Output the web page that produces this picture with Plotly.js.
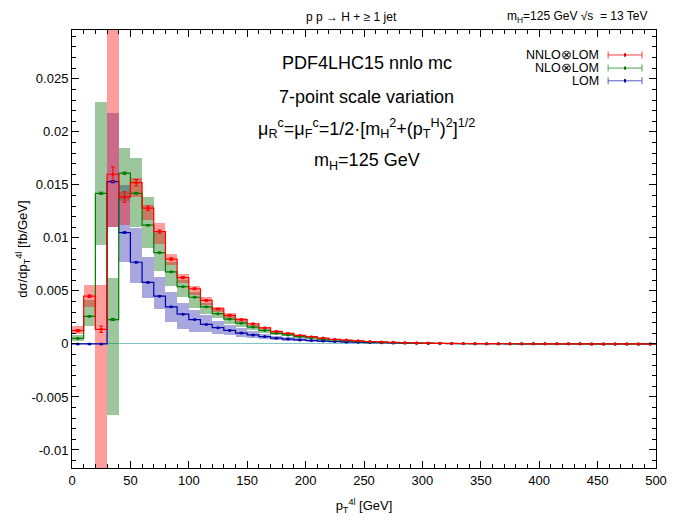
<!DOCTYPE html>
<html>
<head>
<meta charset="utf-8">
<script src="https://cdn.plot.ly/plotly-3.0.1.min.js"></script>
<style>
  html, body { margin: 0; padding: 0; background: #fff; }
  #chart { width: 675px; height: 525px; }
</style>
</head>
<body>
<div id="chart"></div>
<script>
// Bin edges in pT (GeV): 50 bins of 10 GeV from 0 to 500
const binEdges = [0,10,20,30,40,50,60,70,80,90,100,110,120,130,140,150,160,170,180,190,200,
  210,220,230,240,250,260,270,280,290,300,310,320,330,340,350,360,370,380,390,400,
  410,420,430,440,450,460,470,480,490,500];

// NNLO⊗LOM: central values, scale-variation envelope, statistical errors
const nnloCentral = [0.00125,0.0045,0.00138,0.0160,0.01385,0.0152,0.0128,0.0106,0.0080,0.00625,
  0.0052,0.0041,0.0033,0.0027,0.0023,0.0019,0.00152,0.00118,0.00100,0.00080,
  0.00068,0.00055,0.00043,0.00036,0.00029,0.00023,0.00019,0.00015,0.00012,0.000095,
  0.000075,0.00006,0.000048,0.00004,0.000032,0.000026,0.000021,0.000017,0.000014,0.000011,
  0.000009,0.0000075,0.000006,0.000005,0.000004,0.0000033,0.0000027,0.0000022,0.0000018,0.0000015];
const nnloLow = [0.0009,0.0035,-0.013,0.011,0.0112,0.0139,0.01165,0.00945,0.0074,0.0057,
  0.0046,0.0037,0.0030,0.0024,0.0021,0.0017,0.00137,0.00106,0.0009,0.00072,
  0.00061,0.0005,0.00039,0.00032,0.00026,0.00021,0.00017,0.000135,0.00011,0.000085,
  0.000068,0.000054,0.000043,0.000036,0.000029,0.000023,0.000019,0.000015,0.0000125,0.00001,
  0.000008,0.0000067,0.0000054,0.0000045,0.0000036,0.000003,0.0000024,0.000002,0.0000016,0.0000013];
const nnloHigh = [0.00165,0.0056,0.0056,0.035,0.0143,0.0156,0.0131,0.0114,0.0085,0.0066,
  0.0055,0.0044,0.0035,0.0029,0.0024,0.002,0.0016,0.00125,0.00106,0.00085,
  0.00072,0.00058,0.00046,0.00038,0.00031,0.00024,0.0002,0.00016,0.000127,0.0001,
  0.00008,0.000064,0.00005,0.000042,0.000034,0.000027,0.000022,0.000018,0.0000148,0.0000117,
  0.0000095,0.000008,0.0000064,0.0000053,0.0000042,0.0000035,0.0000028,0.0000023,0.0000019,0.0000016];
const nnloStat = [0.0001,0.00012,0.0003,0.0007,0.0005,0.0003,0.0002,0.00015,0.00012,0.0001,
  0.00008,0.00007,0.00006,0.00005,0.00004,0.00004,0.00003,0.00003,0.00002,0.00002,
  0.00002,0.00001,0.00001,0.00001,0.00001,0.00001,0.00001,0.00001,0.00001,0.00001,
  0.000005,0.000005,0.000005,0.000005,0.000005,0.000005,0.000005,0.000005,0.000005,0.000005,
  0.000003,0.000003,0.000003,0.000003,0.000003,0.000003,0.000003,0.000003,0.000003,0.000003];

// NLO⊗LOM
const nloCentral = [0.00052,0.0026,0.0142,0.0023,0.0161,0.0142,0.0112,0.0086,0.0068,0.0054,
  0.0044,0.0035,0.00285,0.00234,0.00196,0.00159,0.00127,0.001,0.00085,0.00068,
  0.00058,0.00046,0.00037,0.0003,0.00024,0.00019,0.00016,0.00013,0.0001,0.00008,
  0.000064,0.000051,0.000041,0.000034,0.000027,0.000022,0.000018,0.0000145,0.000012,0.0000095,
  0.0000077,0.0000064,0.0000052,0.0000043,0.0000035,0.0000029,0.0000024,0.0000019,0.0000016,0.0000013];
const nloLow = [0.0003,0.0017,0.0093,-0.0067,0.0135,0.011,0.009,0.0069,0.0055,0.0044,
  0.0034,0.0028,0.0024,0.0019,0.0016,0.0013,0.00105,0.00083,0.0007,0.00056,
  0.00048,0.00038,0.0003,0.00025,0.0002,0.00016,0.00013,0.00011,0.000083,0.000066,
  0.000053,0.000042,0.000034,0.000028,0.000022,0.000018,0.000015,0.000012,0.00001,0.0000078,
  0.0000063,0.0000053,0.0000043,0.0000035,0.0000029,0.0000024,0.000002,0.0000016,0.0000013,0.0000011];
const nloHigh = [0.0008,0.0041,0.0228,0.0062,0.0185,0.0175,0.01385,0.01055,0.0077,0.006,
  0.0049,0.0039,0.0032,0.0026,0.0022,0.0018,0.00143,0.00112,0.00095,0.00076,
  0.00065,0.00052,0.00042,0.00034,0.00027,0.00021,0.00018,0.000146,0.000112,0.00009,
  0.000072,0.000057,0.000046,0.000038,0.00003,0.000025,0.00002,0.000016,0.0000135,0.0000107,
  0.0000086,0.0000072,0.0000058,0.0000048,0.0000039,0.0000032,0.0000027,0.0000021,0.0000018,0.0000015];
const nloStat = [0.00003,0.00005,0.0001,0.0001,0.0001,0.00008,0.00006,0.00005,0.00004,0.00003,
  0.00003,0.00002,0.00002,0.00002,0.00002,0.00001,0.00001,0.00001,0.00001,0.00001,
  0.000005,0.000005,0.000005,0.000005,0.000005,0.000005,0.000005,0.000005,0.000005,0.000005,
  0.000003,0.000003,0.000003,0.000003,0.000003,0.000003,0.000003,0.000003,0.000003,0.000003,
  0.000002,0.000002,0.000002,0.000002,0.000002,0.000002,0.000002,0.000002,0.000002,0.000002];

// LOM
const loCentral = [0,0,0,0.0153,0.0105,0.0077,0.0058,0.0045,0.0035,0.0028,
  0.0023,0.00184,0.00153,0.00127,0.00102,0.00085,0.00069,0.00054,0.00046,0.00038,
  0.00032,0.00027,0.00022,0.00019,0.00016,0.00013,0.00011,0.00009,0.000075,0.000062,
  0.00005,0.000041,0.000034,0.000028,0.000023,0.000019,0.000016,0.000013,0.000011,0.000009,
  0.0000074,0.0000061,0.000005,0.0000041,0.0000034,0.0000028,0.0000023,0.0000019,0.0000016,0.0000013];
const loLow = [0,0,0,0.011,0.0077,0.0057,0.0043,0.0033,0.0021,0.0014,
  0.0011,0.0011,0.00096,0.0008,0.00064,0.00053,0.00043,0.00034,0.00029,0.00024,
  0.0002,0.00017,0.00014,0.00012,0.0001,0.000082,0.00007,0.000057,0.000047,0.000039,
  0.000031,0.000026,0.000021,0.000018,0.0000145,0.000012,0.00001,0.0000082,0.000007,0.0000057,
  0.0000047,0.0000038,0.0000032,0.0000026,0.0000021,0.0000018,0.0000015,0.0000012,0.000001,0.0000008];
const loHigh = [0,0,0,0.0218,0.015,0.0109,0.0082,0.0063,0.0049,0.0039,
  0.0032,0.0027,0.00215,0.00175,0.0015,0.0012,0.00098,0.00077,0.00065,0.00054,
  0.00046,0.00039,0.00031,0.00027,0.00023,0.00019,0.00016,0.00013,0.000107,0.000088,
  0.000071,0.000058,0.000048,0.00004,0.000033,0.000027,0.000023,0.000018,0.0000156,0.0000128,
  0.0000105,0.0000087,0.0000071,0.0000058,0.0000048,0.000004,0.0000033,0.0000027,0.0000023,0.0000018];
const loStat = [0,0,0,0.0001,0.00006,0.00005,0.00004,0.00003,0.00003,0.00002,
  0.00002,0.00002,0.00001,0.00001,0.00001,0.00001,0.00001,0.000005,0.000005,0.000005,
  0.000005,0.000005,0.000003,0.000003,0.000003,0.000003,0.000003,0.000003,0.000002,0.000002,
  0.000002,0.000002,0.000002,0.000002,0.000002,0.000001,0.000001,0.000001,0.000001,0.000001,
  0.000001,0.000001,0.000001,0.000001,0.000001,0.000001,0.000001,0.000001,0.000001,0.000001];

// Axis tick labels
const yTickVals = [-0.01,-0.005,0,0.005,0.01,0.015,0.02,0.025];
const yTickText = ["-0.01","-0.005","0","0.005","0.01","0.015","0.02","0.025"];
const xTickVals = [0,50,100,150,200,250,300,350,400,450,500];

const FONT = "Liberation Sans, Arial, Helvetica, sans-serif";

const binCenters = binEdges.slice(0, -1).map((e, i) => (e + binEdges[i + 1]) / 2);
const binWidths = binEdges.slice(0, -1).map((e, i) => binEdges[i + 1] - e);

const series = [
  { name: "LOM", c: loCentral, lo: loLow, hi: loHigh, err: loStat,
    line: "rgb(0,0,170)", band: "rgba(0,0,160,0.34)" },
  { name: "NLO⊗LOM", c: nloCentral, lo: nloLow, hi: nloHigh, err: nloStat,
    line: "rgb(0,125,0)", band: "rgba(20,120,20,0.42)" },
  { name: "NNLO⊗LOM", c: nnloCentral, lo: nnloLow, hi: nnloHigh, err: nnloStat,
    line: "rgb(255,0,0)", band: "rgba(255,20,20,0.42)" }
];

const traces = [];
// scale-variation envelopes as floating bars
series.forEach(s => {
  traces.push({
    type: "bar", x: binCenters, width: binWidths,
    base: s.lo, y: s.hi.map((h, i) => h - s.lo[i]),
    marker: { color: s.band, line: { width: 0 } },
    hoverinfo: "skip", showlegend: false
  });
});
// histogram step lines
series.forEach(s => {
  traces.push({
    type: "scatter", mode: "lines", x: binEdges, y: s.c.concat([s.c[s.c.length - 1]]),
    line: { shape: "hv", color: s.line, width: 1.2 },
    showlegend: false, hoverinfo: "skip"
  });
});
// bin-centre points with statistical error bars
series.forEach(s => {
  traces.push({
    type: "scatter", mode: "markers", x: binCenters, y: s.c, name: s.name,
    marker: { color: s.line, size: 3 },
    error_y: { type: "data", array: s.err, visible: true, color: s.line, thickness: 1, width: 2 },
    showlegend: false
  });
});

// hand-drawn legend: text on the left, error-bar glyph on the right
const legendRows = [
  { text: "NNLO⊗LOM", color: "rgb(255,60,60)", dot: "rgb(220,0,0)", y: 0.943 },
  { text: "NLO⊗LOM", color: "rgb(80,160,80)", dot: "rgb(0,110,0)", y: 0.913 },
  { text: "LOM", color: "rgb(90,90,200)", dot: "rgb(0,0,150)", y: 0.884 }
];
const shapes = [];
const annotations = [];
legendRows.forEach(r => {
  annotations.push({ xref: "paper", yref: "paper", x: 0.905, y: r.y, xanchor: "right", yanchor: "middle",
    text: r.text, showarrow: false, font: { family: FONT, size: 12.5, color: "#000" } });
  shapes.push({ type: "line", xref: "paper", yref: "paper", x0: 0.918, x1: 0.976, y0: r.y, y1: r.y,
    line: { color: r.color, width: 1 } });
  shapes.push({ type: "line", xref: "paper", yref: "paper", x0: 0.918, x1: 0.918, y0: r.y - 0.008, y1: r.y + 0.008,
    line: { color: r.color, width: 1 } });
  shapes.push({ type: "line", xref: "paper", yref: "paper", x0: 0.976, x1: 0.976, y0: r.y - 0.008, y1: r.y + 0.008,
    line: { color: r.color, width: 1 } });
  shapes.push({ type: "circle", xref: "paper", yref: "paper", x0: 0.945, x1: 0.949, y0: r.y - 0.0045, y1: r.y + 0.0045,
    fillcolor: r.dot, line: { width: 0 } });
});

// labels above the frame
annotations.push({ xref: "paper", yref: "paper", x: 0.478, y: 1.03, xanchor: "center", yanchor: "middle",
  text: "p p → H + ≥ 1 jet", showarrow: false, font: { family: FONT, size: 12, color: "#000" } });
annotations.push({ xref: "paper", yref: "paper", x: 0.99, y: 1.03, xanchor: "right", yanchor: "middle",
  text: "m<sub>H</sub>=125 GeV √s  = 13 TeV", showarrow: false, font: { family: FONT, size: 12, color: "#000" } });

// description block inside the frame
const infoFont = { family: FONT, size: 18, color: "#000" };
annotations.push({ xref: "paper", yref: "paper", x: 0.505, y: 0.925, xanchor: "center", yanchor: "middle",
  text: "PDF4LHC15 nnlo mc", showarrow: false, font: infoFont });
annotations.push({ xref: "paper", yref: "paper", x: 0.505, y: 0.847, xanchor: "center", yanchor: "middle",
  text: "7-point scale variation", showarrow: false, font: infoFont });
annotations.push({ xref: "paper", yref: "paper", x: 0.505, y: 0.776, xanchor: "center", yanchor: "middle",
  text: "μ<sub>R</sub><sup>c</sup>=μ<sub>F</sub><sup>c</sup>=1/2·[m<sub>H</sub><sup>2</sup>+(p<sub>T</sub><sup>H</sup>)<sup>2</sup>]<sup>1/2</sup>",
  showarrow: false, font: infoFont });
annotations.push({ xref: "paper", yref: "paper", x: 0.505, y: 0.699, xanchor: "center", yanchor: "middle",
  text: "m<sub>H</sub>=125 GeV", showarrow: false, font: infoFont });

const layout = {
  width: 675, height: 525,
  margin: { l: 72, r: 19, t: 30, b: 57 },
  paper_bgcolor: "#fff", plot_bgcolor: "#fff",
  barmode: "overlay", bargap: 0,
  showlegend: false,
  font: { family: FONT, size: 13, color: "#000" },
  xaxis: {
    range: [0, 500], showgrid: false, zeroline: false,
    tickvals: xTickVals, ticks: "inside", ticklen: 7, tickcolor: "#000",
    minor: { dtick: 10, tick0: 0, ticks: "inside", ticklen: 4, tickcolor: "#000", showgrid: false },
    showline: true, linecolor: "#000", linewidth: 1, mirror: "allticks",
    tickfont: { family: FONT, size: 13 },
    title: { text: "p<sub>T</sub><sup>4l</sup> [GeV]", font: { family: FONT, size: 13 }, standoff: 14 }
  },
  yaxis: {
    range: [-0.0117, 0.0296], showgrid: false,
    zeroline: true, zerolinecolor: "rgb(130,195,195)", zerolinewidth: 1,
    tickvals: yTickVals, ticktext: yTickText, ticks: "inside", ticklen: 7, tickcolor: "#000",
    minor: { dtick: 0.001, tick0: 0, ticks: "inside", ticklen: 4, tickcolor: "#000", showgrid: false },
    showline: true, linecolor: "#000", linewidth: 1, mirror: "allticks",
    tickfont: { family: FONT, size: 13 },
    title: { text: "dσ/dp<sub>T</sub><sup>4l</sup> [fb/GeV]", font: { family: FONT, size: 13 }, standoff: 0 }
  },
  shapes: shapes,
  annotations: annotations
};

Plotly.newPlot("chart", traces, layout, { displayModeBar: false, staticPlot: true });
</script>
</body>
</html>
